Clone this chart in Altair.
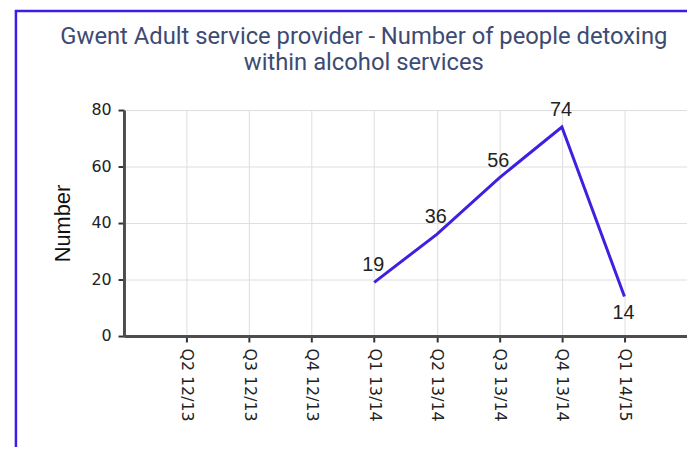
import altair as alt
import pandas as pd

quarters = ["Q2 12/13", "Q3 12/13", "Q4 12/13", "Q1 13/14",
            "Q2 13/14", "Q3 13/14", "Q4 13/14", "Q1 14/15"]
detoxing = [None, None, None, 19, 36, 56, 74, 14]
y_ticks = [0, 20, 40, 60, 80]
title_lines = ["Gwent Adult service provider - Number of people detoxing",
               "within alcohol services"]

df = pd.DataFrame({"quarter": quarters, "number": detoxing})

LINE_COLOR = "#3f1fe0"

x_enc = alt.X(
    "quarter:N", sort=quarters,
    scale=alt.Scale(type="point", padding=1),
    axis=alt.Axis(title=None, labelAngle=90, labelFont="DejaVu Sans",
                  labelFontSize=16, labelColor="#222", tickSize=6,
                  tickColor="#333", tickWidth=2, labelPadding=6,
                  domainColor="#4d4d4d", domainWidth=3, grid=True,
                  gridColor="#dedede"),
)
y_enc = alt.Y(
    "number:Q", scale=alt.Scale(domain=[0, 80]),
    axis=alt.Axis(values=y_ticks, title="Number", labelFont="DejaVu Sans",
                  labelFontSize=16, labelColor="#222", tickSize=6,
                  tickColor="#333", tickWidth=2, labelPadding=7,
                  domainColor="#4d4d4d", domainWidth=3, grid=True,
                  gridColor="#dedede", titleFont="Liberation Sans",
                  titleFontSize=22, titleFontWeight="normal",
                  titleColor="#111", titleAngle=-90, titleX=-62, titleY=114,
                  titleAlign="center", titleBaseline="middle"),
)

base = alt.Chart(df)

line = base.mark_line(color=LINE_COLOR, strokeWidth=3).encode(x=x_enc, y=y_enc)

labels_above = base.transform_filter(
    "datum.quarter != 'Q1 14/15'"
).mark_text(font="Liberation Sans", fontSize=20, color="#222",
            baseline="middle", align="center", dy=-17, dx=-1).encode(
    x=alt.X("quarter:N", sort=quarters), y="number:Q", text="number:Q")

labels_below = base.transform_filter(
    "datum.quarter == 'Q1 14/15'"
).mark_text(font="Liberation Sans", fontSize=20, color="#222",
            baseline="middle", align="center", dy=17, dx=-1).encode(
    x=alt.X("quarter:N", sort=quarters), y="number:Q", text="number:Q")

frame_df = pd.DataFrame({"k": [0]})
frame_left = alt.Chart(frame_df).mark_rule(color="#3a1ee6", strokeWidth=2.5).encode(
    x=alt.value(-109), y=alt.value(-101), y2=alt.value(345))
frame_top = alt.Chart(frame_df).mark_rule(color="#3a1ee6", strokeWidth=2.5).encode(
    x=alt.value(-110), x2=alt.value(580), y=alt.value(-100))

chart = alt.layer(line, labels_above, labels_below, frame_left, frame_top).properties(
    width=568, height=228,
    title=alt.TitleParams(text=title_lines, font="Roboto", fontSize=24,
                          fontWeight="normal", color="#3d4b72",
                          anchor="middle", frame="group", dx=-42,
                          baseline="alphabetic", offset=-86, lineHeight=26),
    autosize=alt.AutoSizeParams(type="none"),
    padding={"left": 117, "top": 101, "right": 0, "bottom": 110},
).configure_view(stroke="#dedede", strokeWidth=1).configure(background="white")

chart.save("out.html", embed_options={"renderer": "svg", "actions": False})
